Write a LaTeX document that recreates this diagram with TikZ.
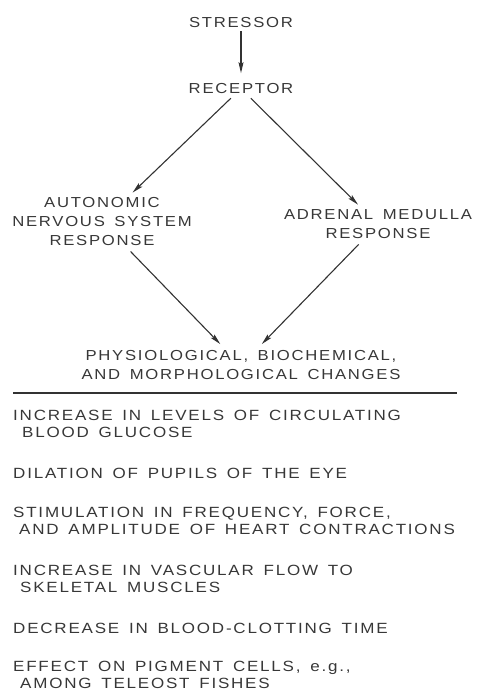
\documentclass[tikz,border=0pt]{standalone}
\usepackage{fontspec}
\usetikzlibrary{arrows.meta,positioning}
\newfontfamily\labelfont[FakeStretch=1.15,LetterSpace=12,WordSpace=1.5]{Liberation Sans}
\definecolor{inkgray}{RGB}{55,55,55}
\definecolor{linegray}{RGB}{50,50,50}

\begin{document}
\begin{tikzpicture}[x=1pt,y=-1pt,
  every node/.style={font=\labelfont\fontsize{14.5}{19}\selectfont,text=inkgray,inner sep=3pt},
  effect/.style={anchor=west,align=left,inner sep=0pt,font=\labelfont\fontsize{14.8}{17.5}\selectfont},
  flow/.style={-{Stealth[length=11pt,width=5pt,inset=2pt]},draw=linegray,line width=1.1pt}]
\useasboundingbox (0,0) rectangle (480,692);

\node (stressor) at (241,23) {STRESSOR};
\node (receptor) at (241,88.5) {RECEPTOR};
\node[align=center] (ans) at (102,222) {AUTONOMIC\\NERVOUS SYSTEM\\RESPONSE};
\node[align=center] (adrenal) at (378,224.5) {ADRENAL MEDULLA\\RESPONSE};
\node[align=center] (changes) at (241,365.5) {PHYSIOLOGICAL, BIOCHEMICAL,\\AND MORPHOLOGICAL CHANGES};

\draw[flow,shorten >=7pt] (stressor) -- (receptor);
\draw[flow,shorten <=2pt,shorten >=3pt] (receptor) -- (ans);
\draw[flow,shorten <=2pt,shorten >=3pt] (receptor) -- (adrenal);
\draw[flow,shorten <=3pt,shorten >=5pt] (ans) -- (changes);
\draw[flow,shorten <=3pt,shorten >=5pt] (adrenal) -- (changes);

% rule under the changes
\coordinate (ruleL) at (13,393);
\coordinate (ruleR) at (457,393);
\draw[draw=linegray,line width=1.2pt] (ruleL) -- (ruleR);

\node[effect] (glucose) at (13,424) {INCREASE IN LEVELS OF CIRCULATING\\\hspace*{9pt}BLOOD GLUCOSE};
\node[effect] (pupils) at (13,473) {DILATION OF PUPILS OF THE EYE};
\node[effect] (heart) at (13,521) {STIMULATION IN FREQUENCY, FORCE,\\\hspace*{6pt}AND AMPLITUDE OF HEART CONTRACTIONS};
\node[effect] (vascular) at (13,579) {INCREASE IN VASCULAR FLOW TO\\\hspace*{7pt}SKELETAL MUSCLES};
\node[effect] (clotting) at (13,628) {DECREASE IN BLOOD-CLOTTING TIME};
\node[effect] (pigment) at (13,675) {EFFECT ON PIGMENT CELLS, e.g.,\\\hspace*{7pt}AMONG TELEOST FISHES};
\end{tikzpicture}
\end{document}
